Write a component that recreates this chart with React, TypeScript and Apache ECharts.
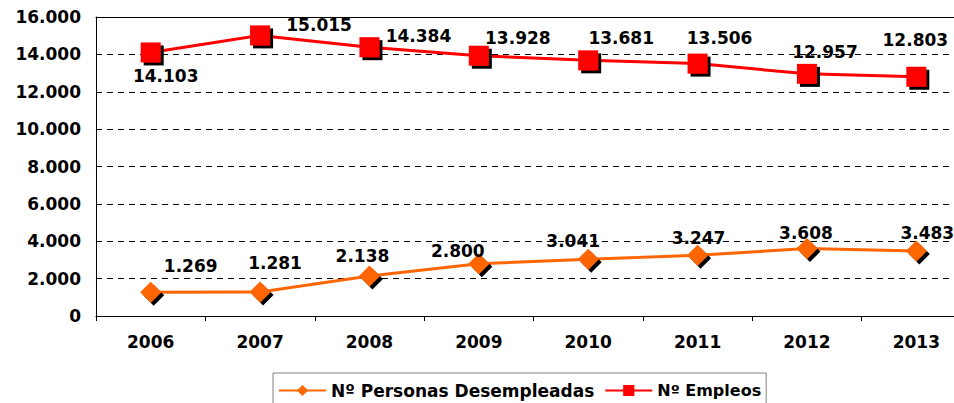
import React, { useEffect, useRef } from "react";
import * as echarts from "echarts";

const years = ["2006", "2007", "2008", "2009", "2010", "2011", "2012", "2013"];
const desempleados = [1269, 1281, 2138, 2800, 3041, 3247, 3608, 3483];
const empleos = [14103, 15015, 14384, 13928, 13681, 13506, 12957, 12803];
const yTicks = { min: 0, max: 16000, interval: 2000 };

// label placement offsets (px, relative to marker centre)
const desempleadosLabelOffsets: [number, number][] = [
  [40, -26], [15, -29], [-7, -20], [-21, -13], [-15, -18], [1, -17], [-1, -16], [11, -18],
];
const empleosLabelOffsets: [number, number][] = [
  [15, 24], [59, -10], [49, -11], [39, -18], [33, -22], [22, -26], [18, -22], [-1, -37],
];

const FONT = "'DejaVu Sans', Verdana, sans-serif";

const fmt = (v: number) => {
  const s = Math.round(v).toString();
  return s.replace(/\B(?=(\d{3})+(?!\d))/g, ".");
};

export default function App() {
  const ref = useRef<HTMLDivElement>(null);
  useEffect(() => {
    if (!ref.current) return;
    const chart = echarts.init(ref.current, null, { renderer: "svg" });
    const labelBase = {
      show: true,
      position: "inside" as const,
      color: "#000",
      fontFamily: FONT,
      fontWeight: "bold" as const,
      fontSize: 17,
      formatter: (p: any) => fmt(p.value),
    };
    const shadow = {
      shadowColor: "#000",
      shadowOffsetX: 3,
      shadowOffsetY: 3,
      shadowBlur: 0,
    };
    chart.setOption({
      animation: false,
      backgroundColor: "#fff",
      textStyle: { fontFamily: FONT },
      grid: {
        left: 96,
        top: 17,
        width: 875,
        height: 299,
        containLabel: false,
        outerBoundsMode: "none",
      },
      legend: {
        left: 273,
        top: 373,
        padding: [9, 5, 14, 5],
        itemGap: 10,
        itemWidth: 47,
        itemHeight: 14,
        borderColor: "#808080",
        borderWidth: 1,
        textStyle: { color: "#000", fontFamily: FONT, fontWeight: "bold", fontSize: 17 },
        data: [
          { name: "Nº Personas Desempleadas" },
          { name: "Nº Empleos", textStyle: { fontSize: 16 } },
        ],
      },
      xAxis: [
        {
          type: "category",
          data: years,
          boundaryGap: true,
          axisLine: { show: true, lineStyle: { color: "#000", width: 1 } },
          axisTick: { show: true, length: 5, lineStyle: { color: "#000" } },
          axisLabel: { color: "#000", fontFamily: FONT, fontWeight: "bold", fontSize: 17, margin: 17 },
          splitLine: { show: false },
        },
        {
          type: "category",
          data: years,
          position: "top",
          axisLine: { show: true, lineStyle: { color: "#000", width: 1 } },
          axisTick: { show: false },
          axisLabel: { show: false },
          splitLine: { show: false },
        },
      ],
      yAxis: {
        type: "value",
        min: yTicks.min,
        max: yTicks.max,
        interval: yTicks.interval,
        axisLine: { show: true, lineStyle: { color: "#000", width: 1 } },
        axisTick: { show: false },
        axisLabel: {
          color: "#000",
          fontFamily: FONT,
          fontWeight: "bold",
          fontSize: 17,
          margin: 15,
          formatter: (v: number) => fmt(v),
        },
        splitLine: { show: true, lineStyle: { color: "#000", width: 1, type: [6, 5] } },
      },
      series: [
        {
          name: "Nº Personas Desempleadas",
          type: "line",
          symbol: "diamond",
          symbolSize: 21,
          lineStyle: { color: "#FF6600", width: 3 },
          itemStyle: { color: "#FF6600", ...shadow },
          data: desempleados.map((v, i) => ({
            value: v,
            label: { ...labelBase, offset: desempleadosLabelOffsets[i] },
          })),
          z: 3,
        },
        {
          name: "Nº Empleos",
          type: "line",
          symbol: "rect",
          symbolSize: 20,
          lineStyle: { color: "#FF0000", width: 3 },
          itemStyle: { color: "#FF0000", ...shadow },
          data: empleos.map((v, i) => ({
            value: v,
            label: { ...labelBase, offset: empleosLabelOffsets[i] },
          })),
          z: 4,
        },
      ],
    });
    return () => chart.dispose();
  }, []);
  return (
    <div
      ref={ref}
      style={{ position: "fixed", left: 0, top: 0, width: 954, height: 403, background: "#fff" }}
    />
  );
}
